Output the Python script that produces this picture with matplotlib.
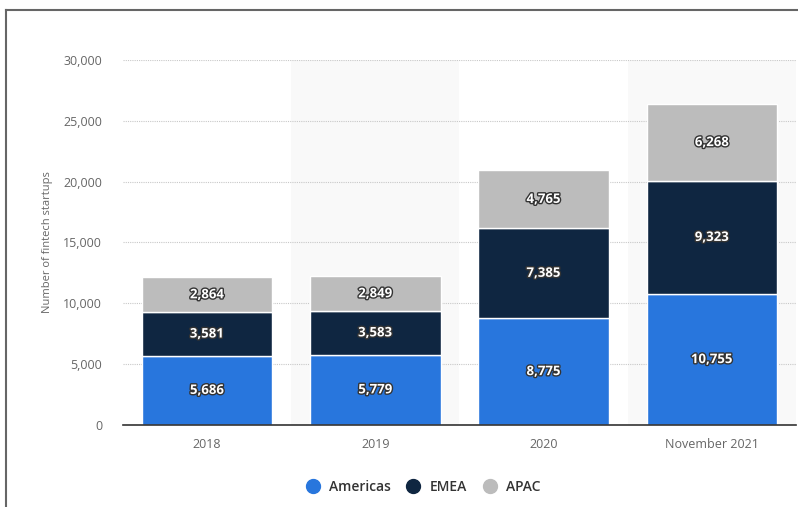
import numpy as np
import matplotlib.pyplot as plt
import matplotlib.patheffects as pe
from matplotlib.lines import Line2D

years = ["2018", "2019", "2020", "November 2021"]
americas = [5686, 5779, 8775, 10755]
emea = [3581, 3583, 7385, 9323]
apac = [2864, 2849, 4765, 6268]
series_names = ["Americas", "EMEA", "APAC"]
colors = ["#2876dd", "#0f2641", "#bcbcbc"]

plt.rcParams['font.family'] = ['Open Sans', 'DejaVu Sans']

fig = plt.figure(figsize=(7.98, 5.07), dpi=100)
ax = fig.add_axes([0.154, 0.1617, 0.8435, 0.72])

x = np.arange(len(years))
# alternating column shading
for i in x:
    if i % 2 == 1:
        ax.axvspan(i - 0.5, i + 0.5, color="#f9f9f9", zorder=0, lw=0)

bottom = np.zeros(len(years))
for vals, name, col in zip([americas, emea, apac], series_names, colors):
    ax.bar(x, vals, 0.775, bottom=bottom, color=col, edgecolor="white",
           linewidth=1, label=name, zorder=2)
    for xi, b, v in zip(x, bottom, vals):
        ax.text(xi, b + v / 2, f"{v:,}", ha="center", va="center", color="white",
                fontsize=9.5, fontweight="bold", zorder=3,
                path_effects=[pe.withStroke(linewidth=2, foreground="#333333")])
    bottom += vals

ax.set_xlim(-0.5, 3.5)
ax.set_ylim(0, 30000)
ax.set_yticks(np.arange(0, 30001, 5000))
ax.set_yticklabels([f"{v:,}" for v in range(0, 30001, 5000)])
ax.set_xticks(x)
ax.set_xticklabels(years)
ax.yaxis.grid(True, linestyle=(0, (1, 1)), color="#c8c8c8", linewidth=0.8, zorder=1)
ax.set_axisbelow(True)
for s in ["top", "right", "left"]:
    ax.spines[s].set_visible(False)
ax.spines["bottom"].set_color("#333333")
ax.spines["bottom"].set_linewidth(1.2)
ax.spines["bottom"].set_zorder(4)
ax.tick_params(axis="both", length=0, labelcolor="#666666", labelsize=9)
ax.tick_params(axis="y", pad=15)
ax.tick_params(axis="x", pad=9)
ax.set_ylabel("Number of fintech startups", color="#666666", fontsize=8, labelpad=7)
ax.set_facecolor("white")

handles = [Line2D([0], [0], marker="o", linestyle="", markersize=10,
                  markerfacecolor=c, markeredgecolor=c) for c in colors]
fig.legend(handles, series_names, loc="center", bbox_to_anchor=(0.526, 0.04),
           ncol=3, frameon=False, prop={"size": 10, "weight": "semibold"},
           handletextpad=0.2, columnspacing=0.6, labelcolor="#333333")

# page frame lines
fig.add_artist(Line2D([6 / 798, 6 / 798], [0, 1 - 10 / 507], color="#666666", lw=1.5))
fig.add_artist(Line2D([6 / 798, 1], [1 - 10 / 507, 1 - 10 / 507], color="#666666", lw=1.5))

fig.savefig("out.png", dpi=100)
